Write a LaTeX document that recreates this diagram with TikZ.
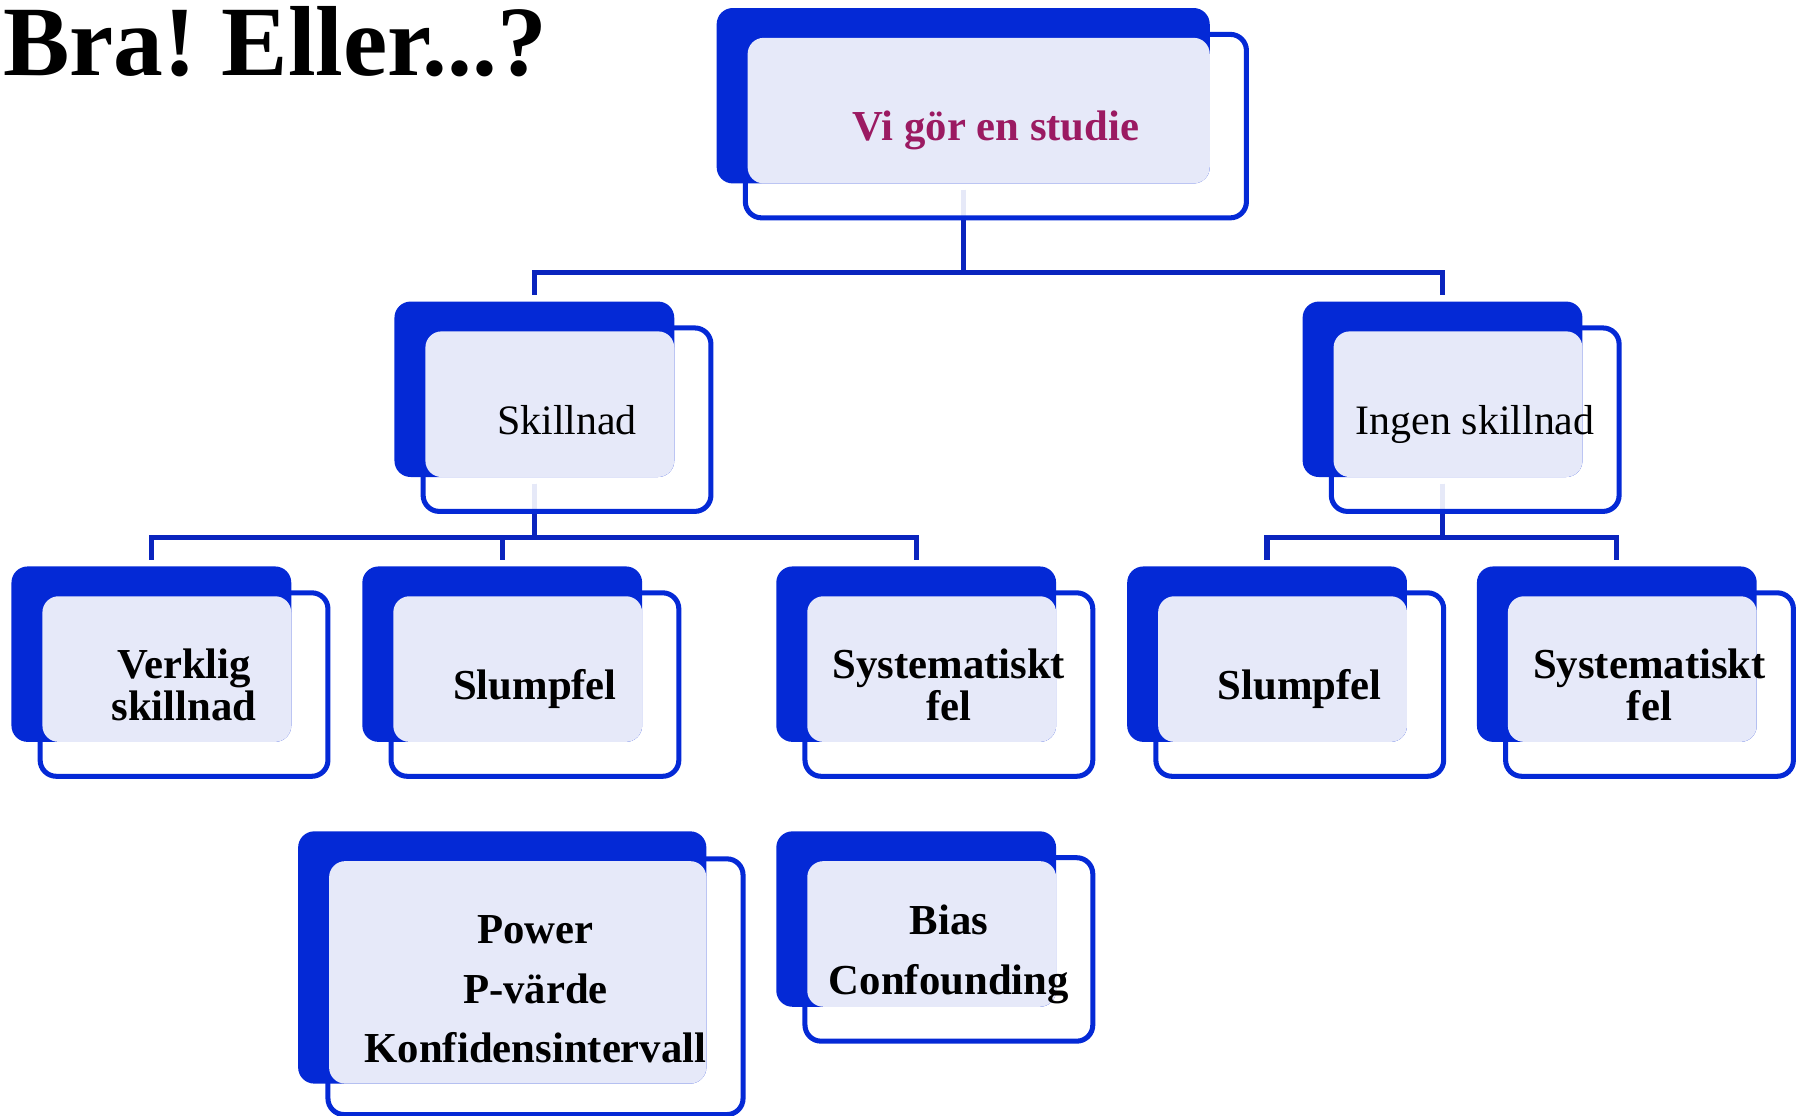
\documentclass[tikz,border=0pt]{standalone}
\usepackage{fontspec}
\setmainfont{Liberation Serif}
\usepackage{xcolor}
\usepackage{tikz}
\usetikzlibrary{backgrounds}

\definecolor{boxblue}{RGB}{4,41,214}
\definecolor{facelav}{RGB}{230,233,249}
\definecolor{linkblue}{RGB}{10,36,190}
\definecolor{studiered}{RGB}{155,26,98}

\begin{document}
\begin{tikzpicture}[x=0.1mm, y=-0.1mm,
        shellbox/.style={draw=boxblue, line width=1.25pt, fill=white, fill opacity=0.9, rounded corners=4pt, inner sep=0pt},
        backbox/.style={fill=boxblue, rounded corners=4pt, inner sep=0pt},
        facebox/.style={fill=facelav, rounded corners=4pt, inner sep=0pt},
        boxtext/.style={font=\fontsize{10.6}{10.5}\selectfont\bfseries, align=center, inner sep=0pt},
        oneline/.style={text depth=0pt},
        boxplain/.style={font=\fontsize{10.4}{10.5}\selectfont, inner sep=0pt, text depth=0pt},
        small/.style={minimum width=24.4mm, minimum height=15.3mm},
        smallshell/.style={minimum width=25.1mm, minimum height=16mm},
        smallface/.style={minimum width=21.7mm, minimum height=12.7mm},
        link/.style={draw=linkblue, line width=1.3pt, shorten <=0.5mm, shorten >=0.5mm}]
        \useasboundingbox (0,0) rectangle (1568,973);

        \node[font=\fontsize{24.7}{26}\selectfont\bfseries, anchor=base west, inner sep=0pt] (title) at (2,66) {\spaceskip=0.17em\relax Bra! Eller...?};

        % top
        \node[shellbox, minimum width=43.7mm, minimum height=16mm] (studie-shell) at (868.5,110) {};
        \node[backbox, minimum width=43mm, minimum height=15.3mm] (studie) at (840,83.5) {};
        \node[facebox, minimum width=40.3mm, minimum height=12.7mm] (studie-face) at (853.5,96.5) {};
        \node[boxtext, oneline, text=studiered] (studie-text) at (studie-shell) {Vi gör en studie};

        % second row
        \node[shellbox, smallshell] (skill-shell) at (494.5,366) {};
        \node[backbox, small] (skill) at (466,339.5) {};
        \node[facebox, smallface] (skill-face) at (479.5,352.5) {};
        \node[boxplain] (skill-text) at (skill-shell) {Skillnad};

        \node[shellbox, smallshell] (ingen-shell) at (1286.5,366) {};
        \node[backbox, small] (ingen) at (1258,339.5) {};
        \node[facebox, smallface] (ingen-face) at (1271.5,352.5) {};
        \node[boxplain] (ingen-text) at (ingen-shell) {Ingen skillnad};

        % third row
        \node[shellbox, smallshell] (verklig-shell) at (160.5,597) {};
        \node[backbox, small] (verklig) at (132,570.5) {};
        \node[facebox, smallface] (verklig-face) at (145.5,583.5) {};
        \node[boxtext] (verklig-text) at (verklig-shell) {Verklig\\skillnad};

        \node[shellbox, smallshell] (slump-shell) at (466.5,597) {};
        \node[backbox, small] (slump) at (438,570.5) {};
        \node[facebox, smallface] (slump-face) at (451.5,583.5) {};
        \node[boxtext, oneline] (slump-text) at (slump-shell) {Slumpfel};

        \node[shellbox, smallshell] (syst-shell) at (827.5,597) {};
        \node[backbox, small] (syst) at (799,570.5) {};
        \node[facebox, smallface] (syst-face) at (812.5,583.5) {};
        \node[boxtext] (syst-text) at (syst-shell) {Systematiskt\\fel};

        \node[shellbox, smallshell] (slumpb-shell) at (1133.5,597) {};
        \node[backbox, small] (slumpb) at (1105,570.5) {};
        \node[facebox, smallface] (slumpb-face) at (1118.5,583.5) {};
        \node[boxtext, oneline] (slumpb-text) at (slumpb-shell) {Slumpfel};

        \node[shellbox, smallshell] (systb-shell) at (1438.5,597) {};
        \node[backbox, small] (systb) at (1410,570.5) {};
        \node[facebox, smallface] (systb-face) at (1423.5,583.5) {};
        \node[boxtext] (systb-text) at (systb-shell) {Systematiskt\\fel};

        % bottom row
        \node[shellbox, minimum width=36.2mm, minimum height=22.3mm] (power-shell) at (467,860.5) {};
        \node[backbox, minimum width=35.6mm, minimum height=22mm] (power) at (438,835) {};
        \node[facebox, minimum width=32.9mm, minimum height=19.4mm] (power-face) at (451.5,848) {};
        \node[boxtext, yshift=-0.7pt] (power-text) at (power-shell) {Power\\[4.3pt]P-värde\\[4.3pt]Konfidensintervall};

        \node[shellbox, smallshell] (bias-shell) at (827.5,828) {};
        \node[backbox, small] (bias) at (799,801.5) {};
        \node[facebox, smallface] (bias-face) at (812.5,814.5) {};
        \node[boxtext, yshift=-1.2pt] (bias-text) at (bias-shell) {Bias\\[4.3pt]Confounding};

        \begin{pgfonlayer}{background}
        \draw[link] (studie.south) -- ++(0,77) -| (skill.north);
        \draw[link] (studie.south) -- ++(0,77) -| (ingen.north);
        \draw[link] (skill.south) -- ++(0,52) -| (verklig.north);
        \draw[link] (skill.south) -- ++(0,52) -| (slump.north);
        \draw[link] (skill.south) -- ++(0,52) -| (syst.north);
        \draw[link] (ingen.south) -- ++(0,52) -| (slumpb.north);
        \draw[link] (ingen.south) -- ++(0,52) -| (systb.north);
        \end{pgfonlayer}
    \end{tikzpicture}
\end{document}
